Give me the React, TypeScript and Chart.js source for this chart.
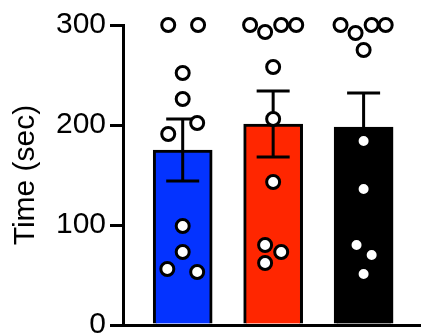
import React, { useEffect, useRef } from "react";
import { Chart, registerables } from "chart.js";

Chart.register(...registerables);

// ---- data ----
const groups = ["Group A", "Group B", "Group C"];
const barColors = ["#0433FF", "#FF2600", "#000000"];
const means = [175, 201, 198];
const sems = [31, 33, 34];
const yTickValues = [0, 100, 200, 300];
const yTitle = "Time (sec)";

const valuesA = [300, 300, 252, 226, 202, 191, 99, 73, 56, 53];
const jitterA = [-0.16, 0.17, 0, 0, 0.16, -0.16, 0, 0, -0.17, 0.16];
const valuesB = [300, 293, 300, 300, 258, 206, 143, 80, 73, 62];
const jitterB = [-0.255, -0.089, 0.089, 0.255, 0, 0, 0, -0.089, 0.089, -0.089];
const valuesC = [300, 292, 300, 300, 275, 184, 136, 80, 70, 51];
const jitterC = [-0.255, -0.089, 0.089, 0.244, 0, 0, 0, -0.078, 0.089, 0];

const groupValues = [valuesA, valuesB, valuesC];
const groupJitter = [jitterA, jitterB, jitterC];

const FONT = "'Liberation Sans', Arial, Helvetica, sans-serif";

const errorBarPlugin = {
  id: "errorBars",
  afterDatasetDraw(chart: any, args: any) {
    if (args.index !== 0) return;
    const ctx = chart.ctx;
    const xs = chart.scales.x;
    const ys = chart.scales.y;
    ctx.save();
    ctx.strokeStyle = "#000";
    ctx.lineWidth = 3;
    ctx.lineCap = "butt";
    means.forEach((m, i) => {
      const x = xs.getPixelForValue(i + 1);
      const yTop = ys.getPixelForValue(m + sems[i]);
      const yBot = ys.getPixelForValue(m - sems[i]);
      const half = 16.5;
      ctx.beginPath();
      ctx.moveTo(x, yTop);
      ctx.lineTo(x, yBot);
      ctx.moveTo(x - half, yTop);
      ctx.lineTo(x + half, yTop);
      ctx.moveTo(x - half, yBot);
      ctx.lineTo(x + half, yBot);
      ctx.stroke();
    });
    ctx.restore();
  },
};

export default function App() {
  const ref = useRef<HTMLCanvasElement | null>(null);

  useEffect(() => {
    if (!ref.current) return;
    const points: { x: number; y: number }[] = [];
    groupValues.forEach((vals, g) => {
      vals.forEach((v, k) => points.push({ x: g + 1 + groupJitter[g][k], y: v }));
    });
    const chart = new Chart(ref.current, {
      type: "bar",
      data: {
        datasets: [
          {
            type: "bar",
            label: "mean",
            data: means.map((m, i) => ({ x: i + 1, y: m })) as any,
            backgroundColor: barColors,
            borderColor: "#000",
            borderWidth: 3,
            barThickness: 59,
            order: 2,
          } as any,
          {
            type: "scatter",
            label: "points",
            data: points as any,
            pointRadius: 6.5,
            pointBorderWidth: 3,
            pointBackgroundColor: "#fff",
            pointBorderColor: "#000",
            clip: false,
            order: 1,
          } as any,
        ],
      },
      options: {
        animation: false,
        responsive: false,
        layout: { padding: { left: 0, right: 0, top: 25, bottom: 25 } },
        plugins: { legend: { display: false }, tooltip: { enabled: false } },
        scales: {
          x: {
            type: "linear",
            min: 0.34,
            max: 3.64,
            offset: false,
            ticks: { display: false },
            grid: { display: false, drawTicks: false, offset: false },
            border: { display: true, color: "#000", width: 3 },
          },
          y: {
            min: 0,
            max: 300,
            afterBuildTicks: (scale: any) => {
              scale.ticks = yTickValues.map((v) => ({ value: v }));
            },
            afterFit: (scale: any) => {
              scale.width = 123;
            },
            ticks: {
              color: "#000",
              font: { family: FONT, size: 30 },
              padding: 4,
            },
            grid: {
              display: true,
              drawOnChartArea: false,
              drawTicks: true,
              tickLength: 13,
              lineWidth: 3,
              color: "#000",
            },
            border: { display: true, color: "#000", width: 3 },
            title: {
              display: true,
              text: yTitle,
              color: "#000",
              font: { family: FONT, size: 30 },
              padding: { top: 8, bottom: 0 },
            },
          },
        },
      },
      plugins: [errorBarPlugin],
    });
    return () => chart.destroy();
  }, []);

  return (
    <div
      style={{
        position: "fixed",
        left: 0,
        top: 0,
        width: 421,
        height: 336,
        overflow: "hidden",
        background: "#fff",
      }}
    >
      <canvas ref={ref} width={431} height={350} style={{ display: "block" }} />
    </div>
  );
}
